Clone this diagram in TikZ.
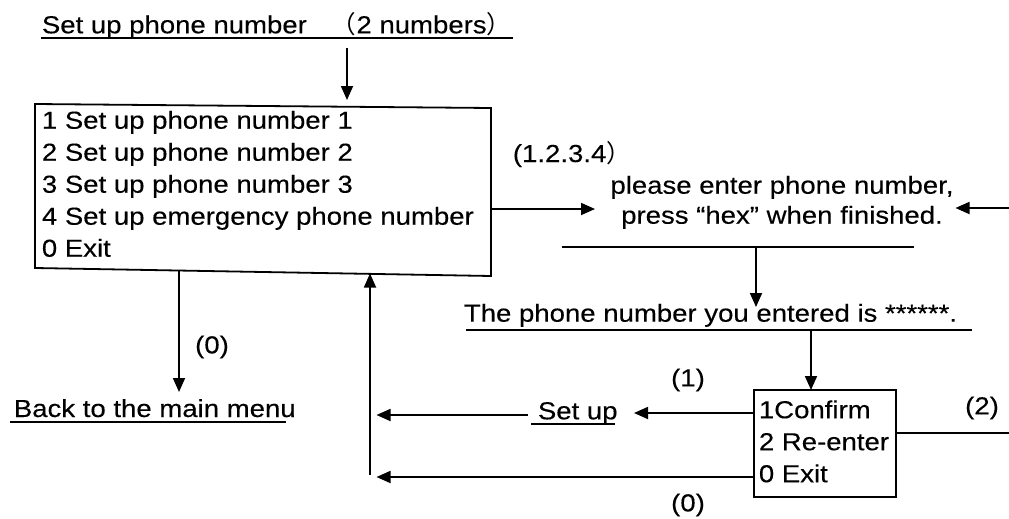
\documentclass[tikz,border=0pt]{standalone}
\usepackage{fontspec}
\setmainfont{Liberation Sans}[FakeStretch=1.12,FakeBold=0.25]
\newfontfamily\cjkfont{Noto Sans CJK SC}
\usetikzlibrary{arrows.meta,calc}
\begin{document}
\begin{tikzpicture}[x=1pt,y=-1pt,line width=1.8pt,
  arr/.style={-{Triangle[length=14pt,width=12pt]}},
  lbl/.style={inner sep=0pt,font=\fontsize{24.6}{32}\selectfont},
  lbltwo/.style={inner sep=0pt,font=\fontsize{24.6}{30}\selectfont},
  uline/.style={line width=1.8pt}]
\useasboundingbox (0,0) rectangle (1009,519);

% main menu box (slightly skewed as in the scan)
\coordinate (m1) at (35,104);
\coordinate (m2) at (491,108);
\coordinate (m3) at (491,276);
\coordinate (m4) at (35,268);
\draw (m1) -- (m2) -- (m3) -- (m4) -- cycle;

% texts
\node[lbl,anchor=base west] (title) at (41,33.3) {Set up phone number\hspace{25pt}{\cjkfont （}2 numbers{\cjkfont ）}};
\draw[uline] (41,38.3) -- (513,38.3);

\node[lbl,anchor=north west,align=left] (menutext) at (41,110)
  {1 Set up phone number 1\\2 Set up phone number 2\\3 Set up phone number 3\\4 Set up emergency phone number\\0 Exit};

\node[lbl,anchor=base west] (sel) at (512,162) {(1.2.3.4{\cjkfont ）}};

\node[lbltwo,anchor=north,align=center] (enter) at (782,175)
  {please enter phone number,\\press “hex” when finished.};
\draw[uline] (561.5,247) -- (914,247);

\node[lbl,anchor=base west] (entered) at (463,321.7) {The phone number you entered is ******.};
\draw[uline] (466,330) -- (972,330);

\node[lbl,anchor=base west] (back) at (13,417) {Back to the main menu};
\draw[uline] (10,422) -- (286,422);

\node[lbl,anchor=base west] (setup) at (537,419.3) {Set up};
\draw[uline] (531,424) -- (614.5,424);

\node[draw,minimum width=142,minimum height=107,anchor=north west,inner sep=0pt] (confbox) at (753,389) {};
\node[lbl,anchor=north west,align=left] (conftext) at (758,399.5) {1Confirm\\2 Re-enter\\0 Exit};

\node[lbl] (l0a) at (212,347) {(0)};
\node[lbl] (l1) at (688,380) {(1)};
\node[lbl] (l2) at (982,408) {(2)};
\node[lbl] (l0b) at (688,505) {(0)};

% connector end points
\coordinate (a1s) at (347,48);   \coordinate (a1e) at (347,100);
\coordinate (a2s) at (491,209);  \coordinate (a2e) at (595,209);
\coordinate (a3s) at (1009,208); \coordinate (a3e) at (955.5,208);
\coordinate (a4s) at (756,247);  \coordinate (a4e) at (756,307);
\coordinate (a5s) at (811,330);  \coordinate (a5e) at (811,390);
\coordinate (a6s) at (179,270);  \coordinate (a6e) at (179,392);
\coordinate (a7s) at (370,475);  \coordinate (a7e) at (370,273.5);
\coordinate (a8s) at (528,415);  \coordinate (a8e) at (376.5,415);
\coordinate (a9s) at (753,413);  \coordinate (a9e) at (634,413);
\coordinate (l10s) at (895,433); \coordinate (l10e) at (1009,433);
\coordinate (a11s) at (753,477); \coordinate (a11e) at (376.5,477);

\draw[arr] (a1s) -- (a1e);
\draw[arr] (a2s) -- (a2e);
\draw[arr] (a3s) -- (a3e);
\draw[arr] (a4s) -- (a4e);
\draw[arr] (a5s) -- (a5e);
\draw[arr] (a6s) -- (a6e);
\draw[arr] (a7s) -- (a7e);
\draw[arr] (a8s) -- (a8e);
\draw[arr] (a9s) -- (a9e);
\draw (l10s) -- (l10e);
\draw[arr] (a11s) -- (a11e);
\end{tikzpicture}
\end{document}
